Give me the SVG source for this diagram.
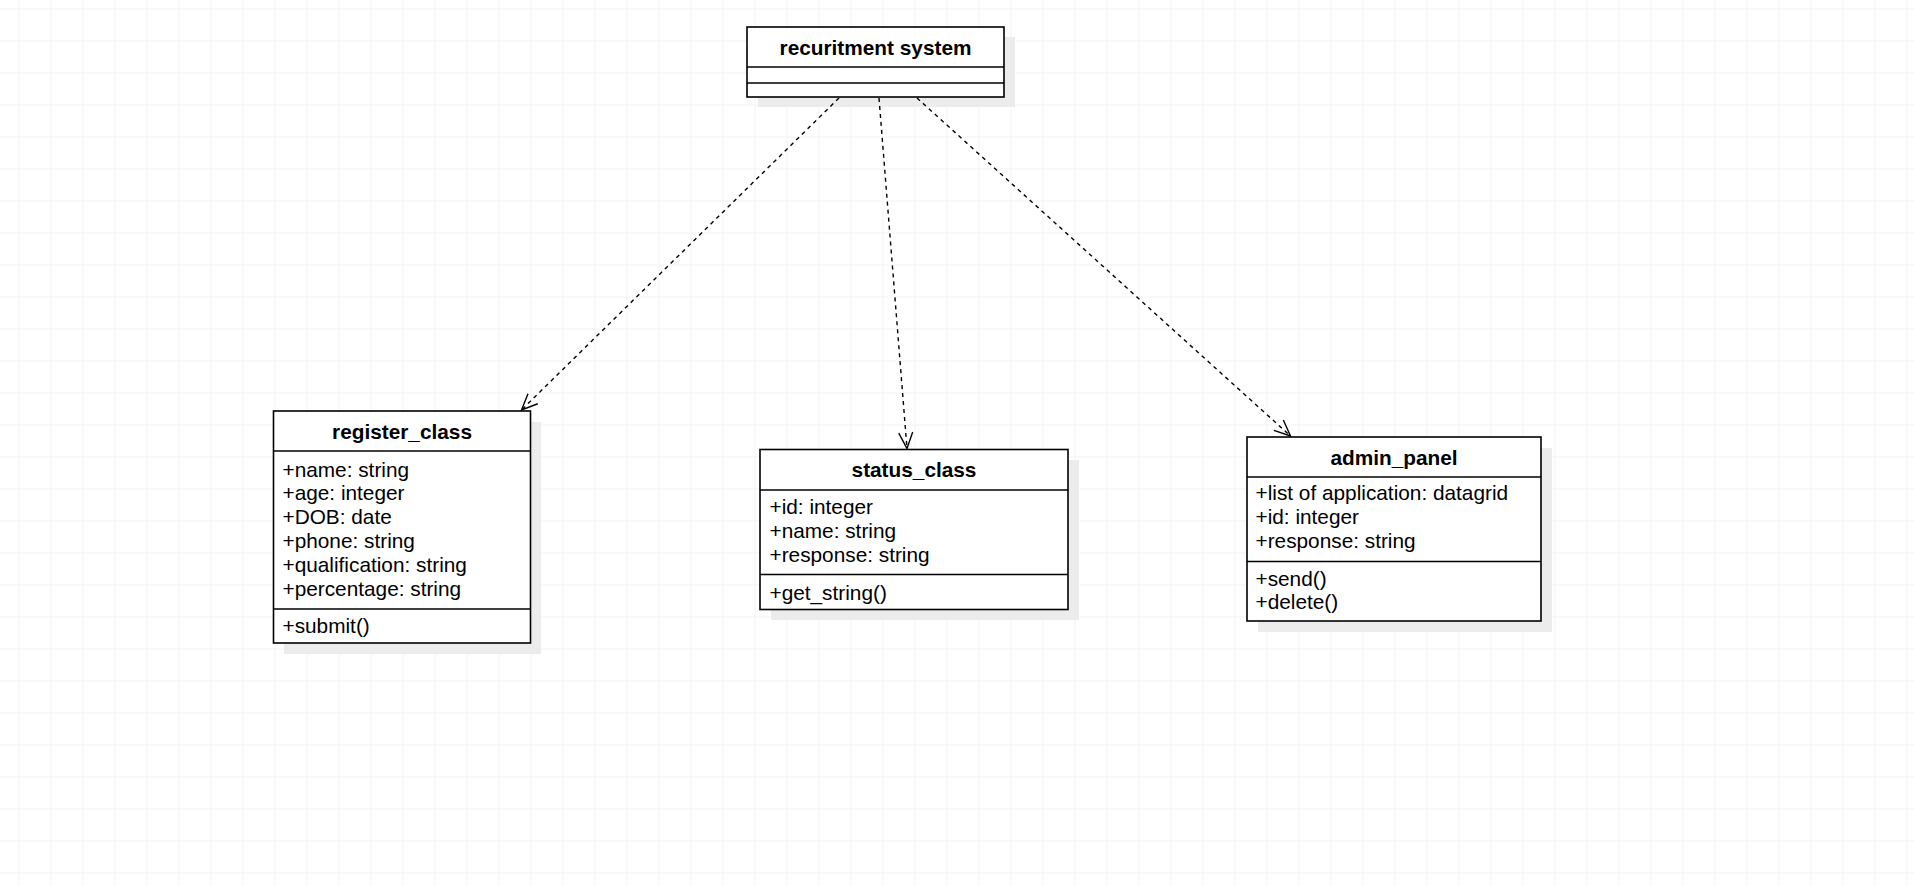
<svg xmlns="http://www.w3.org/2000/svg" width="1914" height="886" viewBox="0 0 1914 886">
<defs>
<pattern id="grid" x="18.5" y="8.5" width="32" height="32" patternUnits="userSpaceOnUse">
<path d="M0 0 H32 M0 0 V32" fill="none" stroke="#e8e8e8" stroke-width="1"/>
</pattern>
<marker id="open" viewBox="0 0 20 20" refX="18" refY="10" markerWidth="20" markerHeight="20" markerUnits="userSpaceOnUse" orient="auto">
<path d="M2 3 L18 10 L2 17" fill="none" stroke="#000" stroke-width="1.4"/>
</marker>
</defs>
<style>
.box{fill:#fff;stroke:#000;stroke-width:1.6}
.sh{fill:#ececec}
.ln{stroke:#000;stroke-width:1.6}
.t{font-family:"Liberation Sans",Arial,sans-serif;font-size:20.8px;fill:#000}
.h{font-weight:bold;text-anchor:middle}
.c{fill:none;stroke:#000;stroke-width:1.4;stroke-dasharray:4 4}
</style>
<rect width="1914" height="886" fill="#fff"/>
<rect width="1914" height="886" fill="url(#grid)"/>

<g id="recruitment_system">
<rect class="sh" x="758" y="37" width="257" height="70"/>
<rect class="box" x="747" y="27" width="257" height="70"/>
<line class="ln" x1="747" y1="67" x2="1004" y2="67"/>
<line class="ln" x1="747" y1="83" x2="1004" y2="83"/>
<text class="t h" x="875.5" y="54.5">recuritment system</text>
</g>

<g id="register_class">
<rect class="sh" x="284" y="422" width="257" height="232"/>
<rect class="box" x="273.5" y="411" width="257" height="232"/>
<line class="ln" x1="273.5" y1="451" x2="530.5" y2="451"/>
<line class="ln" x1="273.5" y1="609" x2="530.5" y2="609"/>
<text class="t h" x="402" y="438.5">register_class</text>
<text class="t" x="282.5" y="476.5">+name: string</text>
<text class="t" x="282.5" y="500.4">+age: integer</text>
<text class="t" x="282.5" y="524.3">+DOB: date</text>
<text class="t" x="282.5" y="548.2">+phone: string</text>
<text class="t" x="282.5" y="572.1">+qualification: string</text>
<text class="t" x="282.5" y="596">+percentage: string</text>
<text class="t" x="282.5" y="632.5">+submit()</text>
</g>

<g id="status_class">
<rect class="sh" x="771" y="460" width="308" height="160"/>
<rect class="box" x="760" y="449.5" width="308" height="160"/>
<line class="ln" x1="760" y1="490" x2="1068" y2="490"/>
<line class="ln" x1="760" y1="574.5" x2="1068" y2="574.5"/>
<text class="t h" x="914" y="477">status_class</text>
<text class="t" x="769.5" y="513.5">+id: integer</text>
<text class="t" x="769.5" y="537.5">+name: string</text>
<text class="t" x="769.5" y="561.5">+response: string</text>
<text class="t" x="769.5" y="599.5">+get_string()</text>
</g>

<g id="admin_panel">
<rect class="sh" x="1258" y="448" width="294" height="184"/>
<rect class="box" x="1247" y="437" width="294" height="184"/>
<line class="ln" x1="1247" y1="477" x2="1541" y2="477"/>
<line class="ln" x1="1247" y1="561.5" x2="1541" y2="561.5"/>
<text class="t h" x="1394" y="464.5">admin_panel</text>
<text class="t" x="1255.5" y="500">+list of application: datagrid</text>
<text class="t" x="1255.5" y="524">+id: integer</text>
<text class="t" x="1255.5" y="548">+response: string</text>
<text class="t" x="1255.5" y="585.5">+send()</text>
<text class="t" x="1255.5" y="609">+delete()</text>
</g>

<g id="connectors">
<line class="c" x1="839" y1="98" x2="521.5" y2="410" marker-end="url(#open)"/>
<line class="c" x1="879" y1="98" x2="907" y2="448.5" marker-end="url(#open)"/>
<line class="c" x1="917" y1="98" x2="1290.5" y2="436" marker-end="url(#open)"/>
</g>
</svg>
